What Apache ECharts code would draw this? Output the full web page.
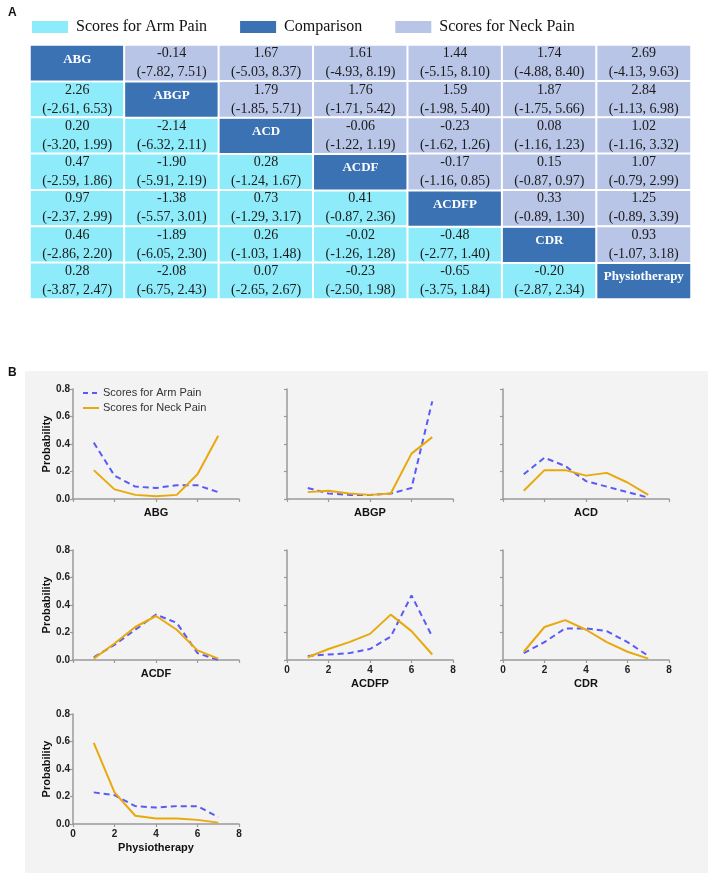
<!DOCTYPE html>
<html>
<head>
<meta charset="utf-8">
<script src="https://cdn.jsdelivr.net/npm/echarts@6/dist/echarts.min.js"></script>
<style>
html,body{margin:0;padding:0;background:#fff;}
#chart{width:708px;height:873px;}
</style>
</head>
<body>
<div id="chart"></div>
<script>
// ---------- DATA ----------
const treatments = ['ABG','ABGP','ACD','ACDF','ACDFP','CDR','Physiotherapy'];
// League table: upper triangle = neck pain, lower triangle = arm pain
const estimates = [
  [null, -0.14, 1.67, 1.61, 1.44, 1.74, 2.69],
  [2.26, null, 1.79, 1.76, 1.59, 1.87, 2.84],
  [0.20, -2.14, null, -0.06, -0.23, 0.08, 1.02],
  [0.47, -1.90, 0.28, null, -0.17, 0.15, 1.07],
  [0.97, -1.38, 0.73, 0.41, null, 0.33, 1.25],
  [0.46, -1.89, 0.26, -0.02, -0.48, null, 0.93],
  [0.28, -2.08, 0.07, -0.23, -0.65, -0.20, null]
];
const lowerCI = [
  [null, -7.82, -5.03, -4.93, -5.15, -4.88, -4.13],
  [-2.61, null, -1.85, -1.71, -1.98, -1.75, -1.13],
  [-3.20, -6.32, null, -1.22, -1.62, -1.16, -1.16],
  [-2.59, -5.91, -1.24, null, -1.16, -0.87, -0.79],
  [-2.37, -5.57, -1.29, -0.87, null, -0.89, -0.89],
  [-2.86, -6.05, -1.03, -1.26, -2.77, null, -1.07],
  [-3.87, -6.75, -2.65, -2.50, -3.75, -2.87, null]
];
const upperCI = [
  [null, 7.51, 8.37, 8.19, 8.10, 8.40, 9.63],
  [6.53, null, 5.71, 5.42, 5.40, 5.66, 6.98],
  [1.99, 2.11, null, 1.19, 1.26, 1.23, 3.32],
  [1.86, 2.19, 1.67, null, 0.85, 0.97, 2.99],
  [2.99, 3.01, 3.17, 2.36, null, 1.30, 3.39],
  [2.20, 2.30, 1.48, 1.28, 1.40, null, 3.18],
  [2.47, 2.43, 2.67, 1.98, 1.84, 2.34, null]
];
const legendNamesA = ['Scores for Arm Pain','Comparison','Scores for Neck Pain'];
// Rank probabilities (rank 1..7)
const ranks = [1,2,3,4,5,6,7];
const armPain = [
  [0.41, 0.17, 0.09, 0.08, 0.10, 0.10, 0.05], // ABG
  [0.08, 0.04, 0.03, 0.03, 0.04, 0.08, 0.71], // ABGP
  [0.18, 0.30, 0.24, 0.13, 0.09, 0.05, 0.01], // ACD
  [0.02, 0.11, 0.22, 0.33, 0.27, 0.05, 0.00], // ACDF
  [0.03, 0.04, 0.05, 0.08, 0.17, 0.47, 0.17], // ACDFP
  [0.05, 0.13, 0.23, 0.23, 0.21, 0.13, 0.03], // CDR
  [0.23, 0.21, 0.13, 0.12, 0.13, 0.13, 0.05]  // Physiotherapy
];
const neckPain = [
  [0.21, 0.07, 0.03, 0.02, 0.03, 0.18, 0.46],
  [0.05, 0.06, 0.04, 0.03, 0.04, 0.33, 0.45],
  [0.06, 0.21, 0.21, 0.17, 0.19, 0.12, 0.03],
  [0.01, 0.12, 0.24, 0.32, 0.22, 0.07, 0.01],
  [0.02, 0.08, 0.13, 0.19, 0.33, 0.21, 0.04],
  [0.06, 0.24, 0.29, 0.22, 0.13, 0.06, 0.01],
  [0.59, 0.23, 0.06, 0.04, 0.04, 0.03, 0.01]
];
const lineNames = ['Scores for Arm Pain','Scores for Neck Pain'];

// ---------- LAYOUT ----------
const chart = echarts.init(document.getElementById('chart'));
const colLeft = [73, 287, 503];
const rowTop = [389, 550, 714];
const gW = 166, gH = 110;
const SANS = 'Liberation Sans, Arial, sans-serif';
const SERIF = 'Liberation Serif, Times New Roman, serif';
const axisCol = '#9a9a9a';
const armColor = '#5a5af5', neckColor = '#e8a90c';

const grids = [], xAxes = [], yAxes = [], series = [];
treatments.forEach((t, k) => {
  const r = Math.floor(k / 3), c = k % 3;
  grids.push({left: colLeft[c], top: rowTop[r], width: gW, height: gH});
  const showX = (k >= 4);
  xAxes.push({
    type: 'value', gridIndex: k, min: 0, max: 8, interval: 2,
    name: t, nameLocation: 'middle', nameGap: showX ? 18 : 8,
    nameTextStyle: {fontFamily: SANS, fontWeight: 'bold', fontSize: 11, color: '#111'},
    axisLine: {show: true, lineStyle: {color: axisCol, width: 1.5}},
    axisTick: {show: true, length: 3, lineStyle: {color: axisCol, width: 1.2}},
    axisLabel: {show: showX, fontFamily: SANS, fontWeight: 'bold', fontSize: 10, color: '#222', margin: 5},
    splitLine: {show: false}
  });
  const showY = (c === 0);
  yAxes.push({
    type: 'value', gridIndex: k, min: 0, max: 0.8, interval: 0.2,
    name: showY ? 'Probability' : '', nameLocation: 'middle', nameGap: 20, nameRotate: 90,
    nameTextStyle: {fontFamily: SANS, fontWeight: 'bold', fontSize: 11, color: '#111'},
    axisLine: {show: true, lineStyle: {color: axisCol, width: 1.5}},
    axisTick: {show: true, length: 3, lineStyle: {color: axisCol, width: 1.2}},
    axisLabel: {show: showY, formatter: v => v.toFixed(1), fontFamily: SANS, fontWeight: 'bold', fontSize: 10, color: '#222', margin: 3},
    splitLine: {show: false}
  });
  series.push({
    name: lineNames[0], type: 'line', xAxisIndex: k, yAxisIndex: k,
    symbol: 'none', silent: true,
    lineStyle: {color: armColor, width: 2, type: [6, 4]},
    itemStyle: {color: armColor},
    data: ranks.map((x, i) => [x, armPain[k][i]])
  });
  series.push({
    name: lineNames[1], type: 'line', xAxisIndex: k, yAxisIndex: k,
    symbol: 'none', silent: true,
    lineStyle: {color: neckColor, width: 2},
    itemStyle: {color: neckColor},
    data: ranks.map((x, i) => [x, neckPain[k][i]])
  });
});

// Heatmap (league table) grid
const hIdx = treatments.length;
grids.push({left: 30, top: 45, width: 661, height: 254});
xAxes.push({type: 'category', gridIndex: hIdx, data: treatments, show: false});
yAxes.push({type: 'category', gridIndex: hIdx, data: treatments, inverse: true, show: false});

const armCells = [], diagCells = [], neckCells = [];
for (let i = 0; i < 7; i++) {
  for (let j = 0; j < 7; j++) {
    if (i === j) diagCells.push({value: [j, i, 0], name: treatments[i]});
    else {
      const item = {value: [j, i, estimates[i][j]], lo: lowerCI[i][j], hi: upperCI[i][j]};
      if (j < i) armCells.push(item); else neckCells.push(item);
    }
  }
}
const cellLabel = {
  show: true, fontFamily: SERIF, fontSize: 14, color: '#1a1a1a', lineHeight: 19,
  formatter: p => p.data.value[2].toFixed(2) + '\n(' + p.data.lo.toFixed(2) + ', ' + p.data.hi.toFixed(2) + ')'
};
const heatColors = ['#8eebf9', '#3b72b3', '#b8c5e6'];
[armCells, diagCells, neckCells].forEach((cells, s) => {
  series.push({
    name: 'A:' + legendNamesA[s], type: 'heatmap', xAxisIndex: hIdx, yAxisIndex: hIdx,
    silent: true, data: cells,
    itemStyle: {color: heatColors[s], borderColor: '#ffffff', borderWidth: 2},
    label: s === 1 ? {
      show: true, fontFamily: SERIF, fontSize: 13, fontWeight: 'bold', color: '#ffffff', offset: [0, -4],
      formatter: p => p.data.name
    } : cellLabel,
    emphasis: {disabled: true}
  });
});

const option = {
  animation: false,
  backgroundColor: '#ffffff',
  graphic: [
    {type: 'rect', silent: true, z: -10, shape: {x: 25, y: 371, width: 683, height: 502}, style: {fill: '#f3f3f3'}},
    {type: 'text', left: 8, top: 7, style: {text: 'A', font: 'bold 12px ' + SANS, fill: '#111'}},
    {type: 'text', left: 8, top: 367, style: {text: 'B', font: 'bold 12px ' + SANS, fill: '#111'}},
    {type: 'line', silent: true, shape: {x1: 83, y1: 393, x2: 99, y2: 393}, style: {stroke: armColor, lineWidth: 2, lineDash: [5, 4]}},
    {type: 'line', silent: true, shape: {x1: 83, y1: 408, x2: 99, y2: 408}, style: {stroke: neckColor, lineWidth: 2}},
    {type: 'text', x: 103, y: 393, style: {text: lineNames[0], font: '11px ' + SANS, fill: '#333', textVerticalAlign: 'middle'}},
    {type: 'text', x: 103, y: 408, style: {text: lineNames[1], font: '11px ' + SANS, fill: '#333', textVerticalAlign: 'middle'}}
  ],
  legend: [
    {
      data: legendNamesA.map(n => 'A:' + n),
      formatter: n => n.slice(2),
      left: 30, top: 19, padding: 0, itemWidth: 38, itemHeight: 14, itemGap: 31, icon: 'rect',
      selectedMode: false,
      textStyle: {fontFamily: SERIF, fontSize: 16, color: '#111', padding: [0, 0, 0, 2]}
    }
  ],
  grid: grids, xAxis: xAxes, yAxis: yAxes, series: series
};
chart.setOption(option);
</script>
</body>
</html>
